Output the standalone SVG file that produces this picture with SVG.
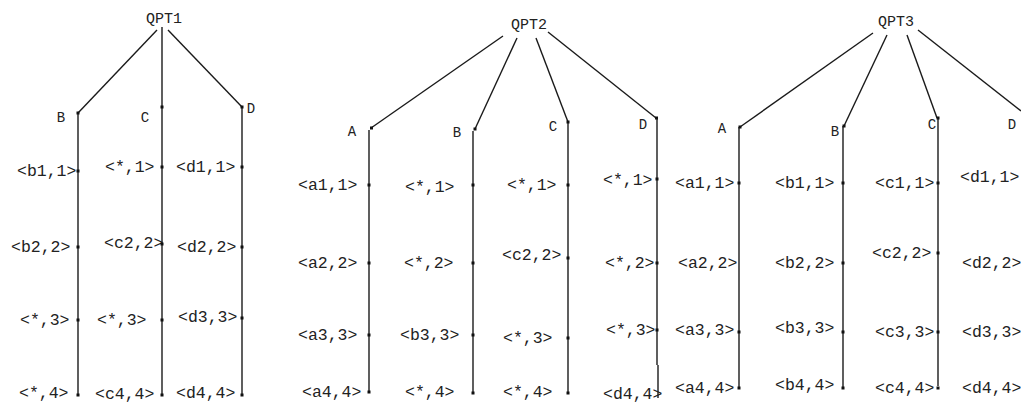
<svg xmlns="http://www.w3.org/2000/svg" width="1021" height="403" viewBox="0 0 1021 403">
<style>
text{font-family:"Liberation Mono","DejaVu Sans Mono",monospace;fill:#222;}
.t{font-size:15px;text-anchor:middle;}
.h{font-size:14px;text-anchor:middle;}
.l{font-size:16.5px;}
.e{stroke:#1a1a1a;stroke-width:1.4;fill:none;}
.d{fill:#111;}
</style>
<rect width="1021" height="403" fill="#fff"/>
<g id="connectors">
<line class="e" x1="157" y1="30" x2="78" y2="113"/>
<line class="e" x1="162" y1="27" x2="162" y2="396"/>
<line class="e" x1="168" y1="30" x2="242" y2="107"/>
<line class="e" x1="78" y1="113" x2="78" y2="396"/>
<line class="e" x1="242" y1="107" x2="242" y2="396"/>
<line class="e" x1="503" y1="36" x2="371" y2="128"/>
<line class="e" x1="517" y1="38" x2="475" y2="129"/>
<line class="e" x1="536" y1="38" x2="568" y2="122"/>
<line class="e" x1="548" y1="32" x2="656" y2="118"/>
<line class="e" x1="369" y1="130" x2="369" y2="393"/>
<line class="e" x1="473" y1="131" x2="473" y2="394"/>
<line class="e" x1="568" y1="122" x2="568" y2="394"/>
<line class="e" x1="657" y1="118" x2="657" y2="365"/>
<line class="e" x1="658" y1="365" x2="658" y2="398"/>
<line class="e" x1="873" y1="33" x2="740" y2="127"/>
<line class="e" x1="887" y1="35" x2="844" y2="126"/>
<line class="e" x1="907" y1="35" x2="937" y2="118"/>
<line class="e" x1="918" y1="30" x2="1021" y2="111"/>
<line class="e" x1="739" y1="127" x2="739" y2="388"/>
<line class="e" x1="843" y1="126" x2="843" y2="388"/>
<line class="e" x1="938" y1="118" x2="938" y2="386"/>
</g>
<g id="QPT1"><text class="t" x="164" y="23">QPT1</text></g>
<g id="QPT1-B"><text class="h" x="61" y="122">B</text><rect class="d" x="76.5" y="111.5" width="3" height="3"/></g>
<g id="QPT1-C"><text class="h" x="145" y="122">C</text><rect class="d" x="160.5" y="105.5" width="3" height="3"/></g>
<g id="QPT1-D"><text class="h" x="251" y="113">D</text><rect class="d" x="240.5" y="105.5" width="3" height="3"/></g>
<g id="QPT1-B-leaves">
<text class="l" x="17" y="176">&lt;b1,1&gt;</text><rect class="d" x="76.5" y="169.5" width="3" height="3"/>
<text class="l" x="11" y="252">&lt;b2,2&gt;</text><rect class="d" x="76.5" y="245.5" width="3" height="3"/>
<text class="l" x="20" y="325">&lt;*,3&gt;</text><rect class="d" x="76.5" y="318.5" width="3" height="3"/>
<text class="l" x="19" y="398">&lt;*,4&gt;</text><rect class="d" x="76.5" y="393.5" width="3" height="3"/>
</g>
<g id="QPT1-C-leaves">
<text class="l" x="105" y="172">&lt;*,1&gt;</text><rect class="d" x="160.5" y="165.5" width="3" height="3"/>
<text class="l" x="104" y="248">&lt;c2,2&gt;</text><rect class="d" x="160.5" y="242.5" width="3" height="3"/>
<text class="l" x="97" y="325">&lt;*,3&gt;</text><rect class="d" x="160.5" y="318.5" width="3" height="3"/>
<text class="l" x="95" y="399">&lt;c4,4&gt;</text><rect class="d" x="160.5" y="393.5" width="3" height="3"/>
</g>
<g id="QPT1-D-leaves">
<text class="l" x="176" y="172">&lt;d1,1&gt;</text><rect class="d" x="240.5" y="165.5" width="3" height="3"/>
<text class="l" x="177" y="252">&lt;d2,2&gt;</text><rect class="d" x="240.5" y="245.5" width="3" height="3"/>
<text class="l" x="178" y="322">&lt;d3,3&gt;</text><rect class="d" x="240.5" y="316.5" width="3" height="3"/>
<text class="l" x="176" y="398">&lt;d4,4&gt;</text><rect class="d" x="240.5" y="393.5" width="3" height="3"/>
</g>
<g id="QPT2"><text class="t" x="529" y="29">QPT2</text></g>
<g id="QPT2-A"><text class="h" x="352" y="136">A</text><rect class="d" x="370" y="126.5" width="3" height="3"/></g>
<g id="QPT2-B"><text class="h" x="457" y="137">B</text><rect class="d" x="473.5" y="127.5" width="3" height="3"/></g>
<g id="QPT2-C"><text class="h" x="553" y="131">C</text><rect class="d" x="566.5" y="120.5" width="3" height="3"/></g>
<g id="QPT2-D"><text class="h" x="643" y="129">D</text><rect class="d" x="655" y="116.5" width="3" height="3"/></g>
<g id="QPT2-A-leaves">
<text class="l" x="298" y="190">&lt;a1,1&gt;</text><rect class="d" x="367.5" y="183.5" width="3" height="3"/>
<text class="l" x="298" y="268">&lt;a2,2&gt;</text><rect class="d" x="367.5" y="261.5" width="3" height="3"/>
<text class="l" x="298" y="340">&lt;a3,3&gt;</text><rect class="d" x="367.5" y="333.5" width="3" height="3"/>
<text class="l" x="302" y="397">&lt;a4,4&gt;</text><rect class="d" x="367.5" y="390.5" width="3" height="3"/>
</g>
<g id="QPT2-B-leaves">
<text class="l" x="405" y="192">&lt;*,1&gt;</text><rect class="d" x="471.5" y="183.5" width="3" height="3"/>
<text class="l" x="404" y="268">&lt;*,2&gt;</text><rect class="d" x="471.5" y="261.5" width="3" height="3"/>
<text class="l" x="400" y="340">&lt;b3,3&gt;</text><rect class="d" x="471.5" y="333.5" width="3" height="3"/>
<text class="l" x="405" y="397">&lt;*,4&gt;</text><rect class="d" x="471.5" y="391.5" width="3" height="3"/>
</g>
<g id="QPT2-C-leaves">
<text class="l" x="507" y="190">&lt;*,1&gt;</text><rect class="d" x="566.5" y="183.5" width="3" height="3"/>
<text class="l" x="502" y="260">&lt;c2,2&gt;</text><rect class="d" x="566.5" y="256.5" width="3" height="3"/>
<text class="l" x="503" y="343">&lt;*,3&gt;</text><rect class="d" x="566.5" y="336.5" width="3" height="3"/>
<text class="l" x="503" y="397">&lt;*,4&gt;</text><rect class="d" x="566.5" y="391.5" width="3" height="3"/>
</g>
<g id="QPT2-D-leaves">
<text class="l" x="603" y="185">&lt;*,1&gt;</text><rect class="d" x="655.5" y="177.5" width="3" height="3"/>
<text class="l" x="605" y="268">&lt;*,2&gt;</text><rect class="d" x="655.5" y="261.5" width="3" height="3"/>
<text class="l" x="606" y="335">&lt;*,3&gt;</text><rect class="d" x="655.5" y="328.5" width="3" height="3"/>
<text class="l" x="603" y="399">&lt;d4,4&gt;</text>
</g>
<g id="QPT3"><text class="t" x="896" y="26">QPT3</text></g>
<g id="QPT3-A"><text class="h" x="722" y="133">A</text><rect class="d" x="738.5" y="125.5" width="3" height="3"/></g>
<g id="QPT3-B"><text class="h" x="835" y="136">B</text><rect class="d" x="842.5" y="124.5" width="3" height="3"/></g>
<g id="QPT3-C"><text class="h" x="932" y="129">C</text><rect class="d" x="936.5" y="116.5" width="3" height="3"/></g>
<g id="QPT3-D"><text class="h" x="1012" y="129">D</text></g>
<g id="QPT3-A-leaves">
<text class="l" x="675" y="188">&lt;a1,1&gt;</text><rect class="d" x="737.5" y="181.5" width="3" height="3"/>
<text class="l" x="678" y="268">&lt;a2,2&gt;</text>
<text class="l" x="675" y="335">&lt;a3,3&gt;</text><rect class="d" x="737.5" y="330.5" width="3" height="3"/>
<text class="l" x="675" y="393">&lt;a4,4&gt;</text><rect class="d" x="737.5" y="386.5" width="3" height="3"/>
</g>
<g id="QPT3-B-leaves">
<text class="l" x="775" y="188">&lt;b1,1&gt;</text><rect class="d" x="841.5" y="181.5" width="3" height="3"/>
<text class="l" x="775" y="268">&lt;b2,2&gt;</text><rect class="d" x="841.5" y="261.5" width="3" height="3"/>
<text class="l" x="775" y="333">&lt;b3,3&gt;</text><rect class="d" x="841.5" y="330.5" width="3" height="3"/>
<text class="l" x="775" y="390">&lt;b4,4&gt;</text><rect class="d" x="841.5" y="386.5" width="3" height="3"/>
</g>
<g id="QPT3-C-leaves">
<text class="l" x="875" y="188">&lt;c1,1&gt;</text><rect class="d" x="936.5" y="181.5" width="3" height="3"/>
<text class="l" x="872" y="258">&lt;c2,2&gt;</text><rect class="d" x="936.5" y="251.5" width="3" height="3"/>
<text class="l" x="875" y="337">&lt;c3,3&gt;</text><rect class="d" x="936.5" y="330.5" width="3" height="3"/>
<text class="l" x="875" y="393">&lt;c4,4&gt;</text><rect class="d" x="936.5" y="386.5" width="3" height="3"/>
</g>
<g id="QPT3-D-leaves">
<text class="l" x="960" y="182">&lt;d1,1&gt;</text>
<text class="l" x="962" y="268">&lt;d2,2&gt;</text>
<text class="l" x="962" y="337">&lt;d3,3&gt;</text>
<text class="l" x="962" y="393">&lt;d4,4&gt;</text>
</g>
</svg>
